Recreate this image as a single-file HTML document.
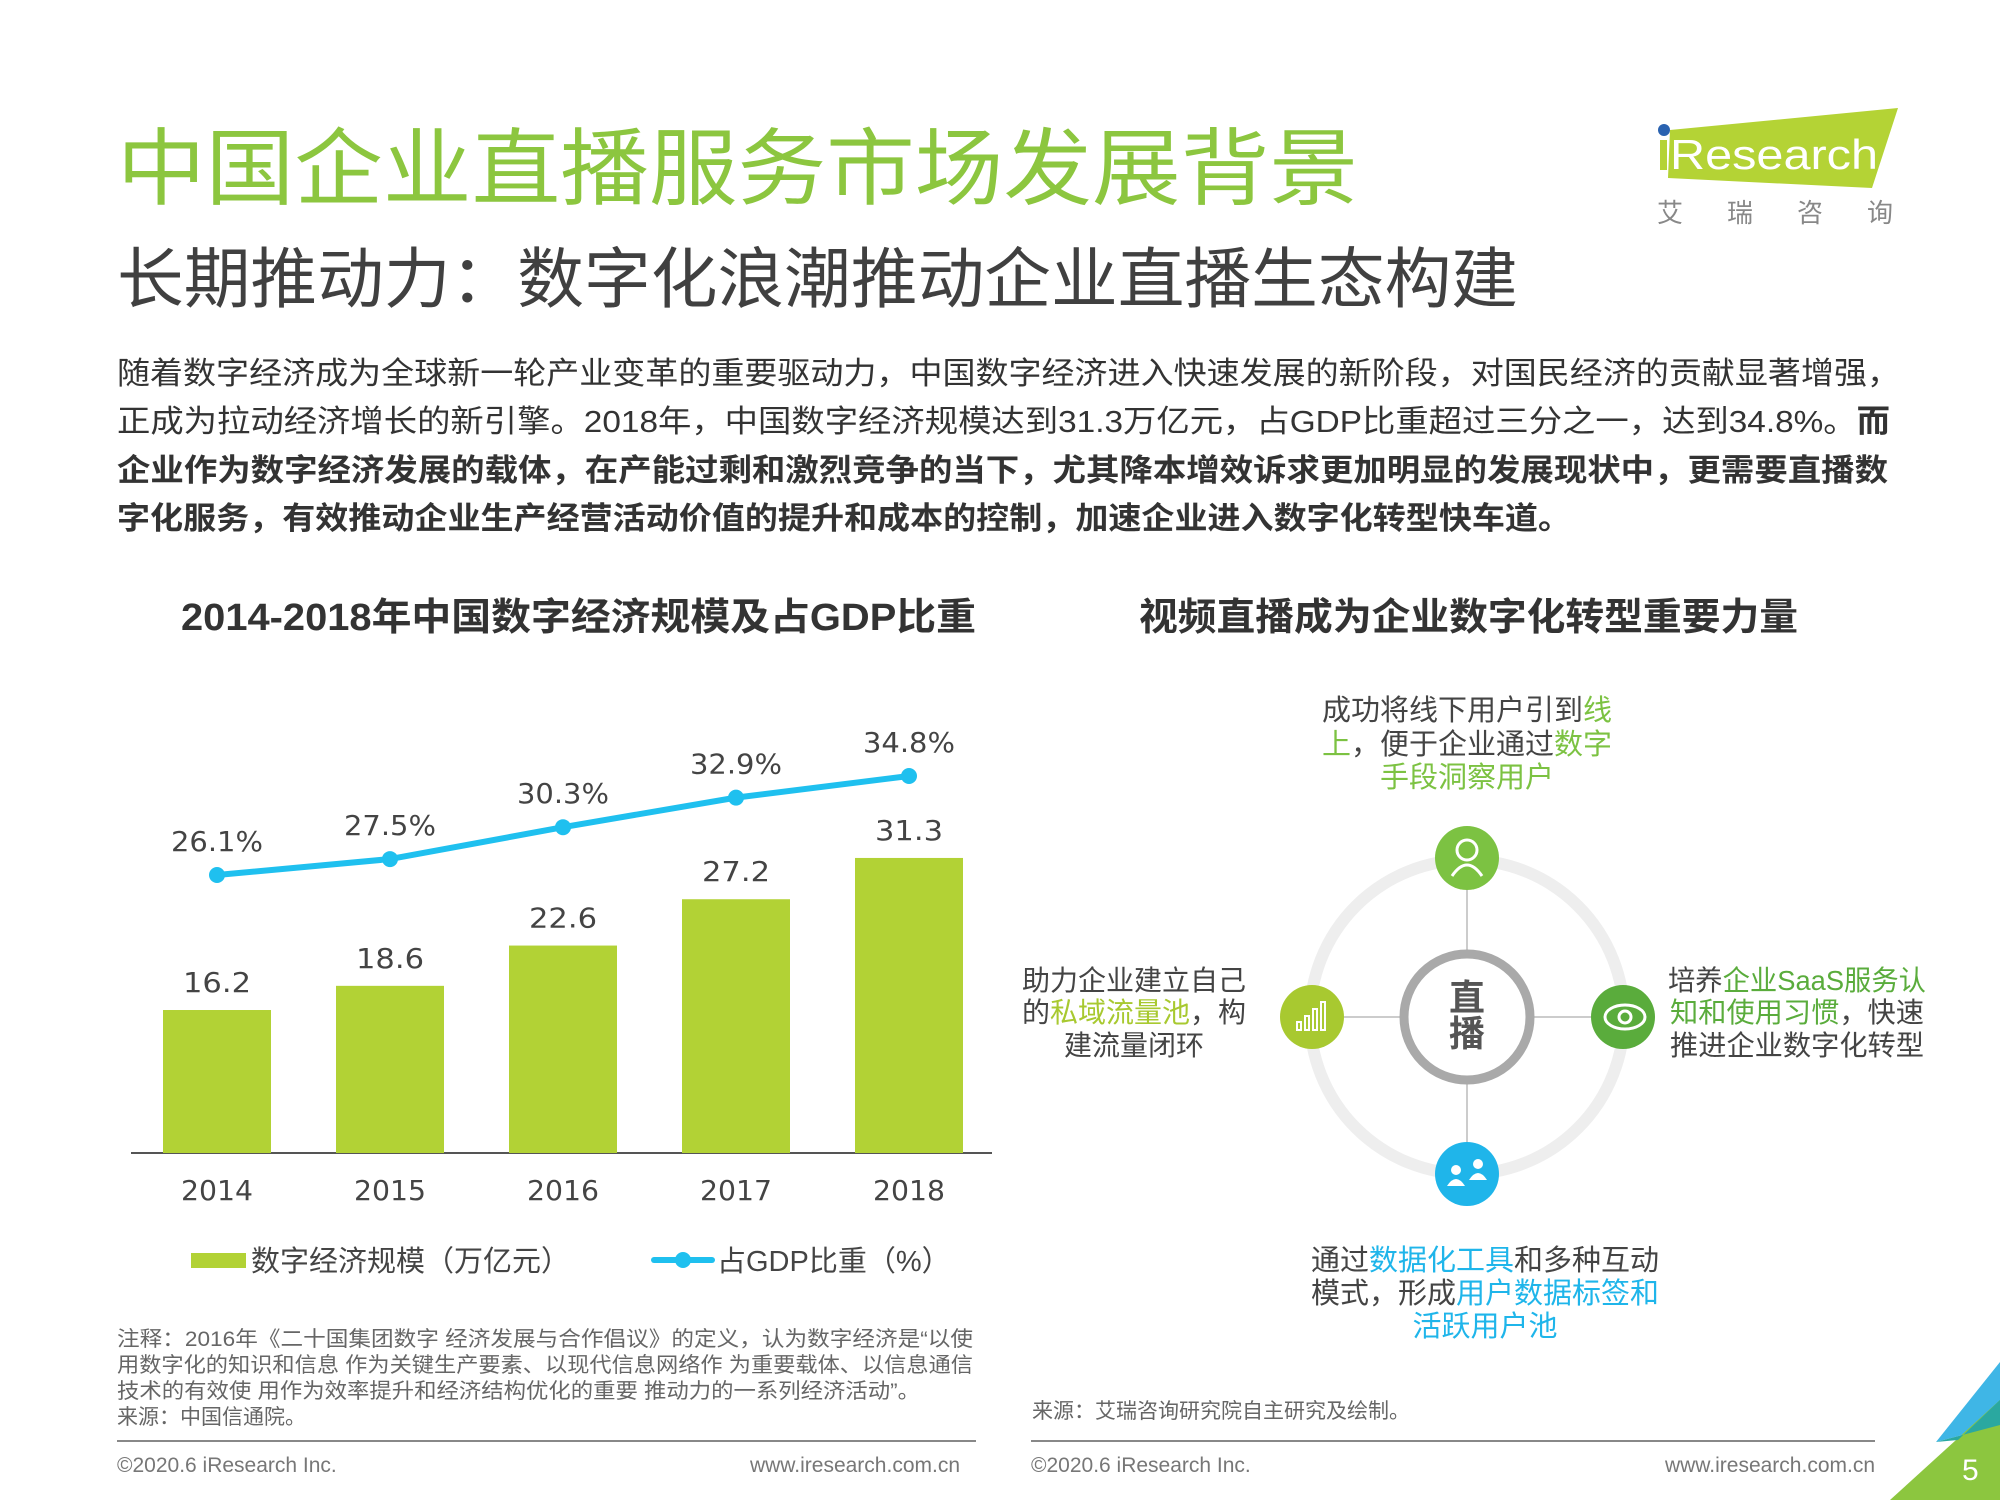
<!DOCTYPE html>
<html><head><meta charset="utf-8"><style>
html,body{margin:0;padding:0;background:#fff;}
svg{display:block;}
text{font-family:"Liberation Sans","Noto Sans CJK SC",sans-serif;}
.num{font-family:"DejaVu Sans","Liberation Sans",sans-serif;}
</style></head><body>
<svg id="page" width="2000" height="1500" viewBox="0 0 2000 1500">
<text x="117" y="198" font-size="84" fill="#8cc63f" textLength="1241" lengthAdjust="spacingAndGlyphs">中国企业直播服务市场发展背景</text>
<text x="117" y="302" font-size="66" fill="#404040" textLength="1401" lengthAdjust="spacingAndGlyphs">长期推动力：数字化浪潮推动企业直播生态构建</text>
<g>
<polygon points="1670,130 1898,108 1872,188 1668,178" fill="#b4d335"/>
<circle cx="1664" cy="130" r="6" fill="#2a62b0"/>
<rect x="1660" y="140" width="7" height="30" fill="#b4d335"/>
<text x="1670" y="169" font-size="42" fill="#fff" textLength="208" lengthAdjust="spacingAndGlyphs">Research</text>
<text x="1657" y="222" font-size="26" fill="#888" letter-spacing="44">艾瑞咨询</text>
</g>
<g font-size="31" fill="#333">
<text x="117" y="384" textLength="1783" lengthAdjust="spacingAndGlyphs">随着数字经济成为全球新一轮产业变革的重要驱动力，中国数字经济进入快速发展的新阶段，对国民经济的贡献显著增强，</text>
<text x="117" y="432" textLength="1773" lengthAdjust="spacingAndGlyphs">正成为拉动经济增长的新引擎。2018年，中国数字经济规模达到31.3万亿元，占GDP比重超过三分之一，达到34.8%。<tspan font-weight="bold">而</tspan></text>
<text x="117" y="481" font-weight="bold" textLength="1771" lengthAdjust="spacingAndGlyphs">企业作为数字经济发展的载体，在产能过剩和激烈竞争的当下，尤其降本增效诉求更加明显的发展现状中，更需要直播数</text>
<text x="117" y="529" font-weight="bold" textLength="1454" lengthAdjust="spacingAndGlyphs">字化服务，有效推动企业生产经营活动价值的提升和成本的控制，加速企业进入数字化转型快车道。</text>
</g>
<text x="181" y="630" font-size="38" font-weight="bold" fill="#333" textLength="795" lengthAdjust="spacingAndGlyphs">2014-2018年中国数字经济规模及占GDP比重</text>
<text x="1139" y="630" font-size="38" font-weight="bold" fill="#333" textLength="659" lengthAdjust="spacingAndGlyphs">视频直播成为企业数字化转型重要力量</text>
<g id="chart"></g>
<g>
<rect x="191" y="1253" width="55" height="15" fill="#b2d235"/>
<text x="251" y="1271" font-size="29" fill="#444">数字经济规模（万亿元）</text>
<line x1="654" y1="1260" x2="712" y2="1260" stroke="#1fc0ef" stroke-width="6" stroke-linecap="round"/>
<circle cx="683" cy="1260" r="8" fill="#1fc0ef"/>
<text x="717" y="1271" font-size="29" fill="#444">占GDP比重（%）</text>
</g>
<g font-size="21" fill="#666">
<text x="117" y="1346" textLength="856" lengthAdjust="spacingAndGlyphs">注释：2016年《二十国集团数字 经济发展与合作倡议》的定义，认为数字经济是“以使</text>
<text x="117" y="1372" textLength="856" lengthAdjust="spacingAndGlyphs">用数字化的知识和信息 作为关键生产要素、以现代信息网络作 为重要载体、以信息通信</text>
<text x="117" y="1398" textLength="803" lengthAdjust="spacingAndGlyphs">技术的有效使 用作为效率提升和经济结构优化的重要 推动力的一系列经济活动”。</text>
<text x="117" y="1424">来源：中国信通院。</text>
</g>
<line x1="117" y1="1441" x2="976" y2="1441" stroke="#888" stroke-width="2"/>
<line x1="1031" y1="1441" x2="1875" y2="1441" stroke="#888" stroke-width="2"/>
<text x="117" y="1472" font-size="21" fill="#777">©2020.6 iResearch Inc.</text>
<text x="960" y="1472" font-size="21" fill="#777" text-anchor="end">www.iresearch.com.cn</text>
<text x="1031" y="1472" font-size="21" fill="#777">©2020.6 iResearch Inc.</text>
<text x="1875" y="1472" font-size="21" fill="#777" text-anchor="end">www.iresearch.com.cn</text>
<text x="1032" y="1418" font-size="21" fill="#666">来源：艾瑞咨询研究院自主研究及绘制。</text>
<g>
<polygon points="2000,1362 2000,1425 1936,1442" fill="#3fb6e6"/>
<polygon points="2000,1400 2000,1500 1890,1500" fill="#8cc63f"/>
<polygon points="1936,1442 2000,1425 2000,1400 1958,1440" fill="#2aa8a0"/>
<text x="1962" y="1480" font-size="30" fill="#fff">5</text>
</g>
<g>
<circle cx="1467" cy="1017" r="157" fill="none" stroke="#eeeeee" stroke-width="12"/>
<g stroke="#cccccc" stroke-width="2">
<line x1="1467" y1="890" x2="1467" y2="950"/><line x1="1467" y1="1084" x2="1467" y2="1142"/>
<line x1="1344" y1="1017" x2="1400" y2="1017"/><line x1="1534" y1="1017" x2="1591" y2="1017"/>
</g>
<circle cx="1467" cy="1017" r="63" fill="#fff" stroke="#a9a9a9" stroke-width="9"/>
<text x="1467" y="1010" font-size="36" font-weight="bold" fill="#555" text-anchor="middle">直</text>
<text x="1467" y="1046" font-size="36" font-weight="bold" fill="#555" text-anchor="middle">播</text>
<g><circle cx="1467" cy="858" r="32" fill="#7cc242"/><circle cx="1467" cy="850" r="10" fill="none" stroke="#fff" stroke-width="3"/><path d="M1452 876 q15 -22 30 0" fill="none" stroke="#fff" stroke-width="3"/></g>
<g><circle cx="1312" cy="1017" r="32" fill="#a8c930"/><g fill="none" stroke="#fff" stroke-width="2"><rect x="1297" y="1022" width="4" height="8"/><rect x="1305" y="1016" width="4" height="14"/><rect x="1313" y="1009" width="4" height="21"/><rect x="1321" y="1002" width="4" height="28"/></g></g>
<g><circle cx="1623" cy="1017" r="32" fill="#5aac3c"/><ellipse cx="1625" cy="1017" rx="20" ry="12" fill="none" stroke="#fff" stroke-width="3"/><circle cx="1625" cy="1017" r="6" fill="none" stroke="#fff" stroke-width="3"/></g>
<g><circle cx="1467" cy="1174" r="32" fill="#1fb5ea"/><circle cx="1456" cy="1170" r="5" fill="#fff"/><path d="M1447 1186 q9 -14 18 0z" fill="#fff"/><circle cx="1478" cy="1164" r="5" fill="#fff"/><path d="M1469 1180 q9 -14 18 0z" fill="#fff"/></g>
<g font-size="29" fill="#444" text-anchor="middle">
<text x="1467" y="720">成功将线下用户引到<tspan fill="#7cc242">线</tspan></text>
<text x="1467" y="754"><tspan fill="#7cc242">上</tspan>，便于企业通过<tspan fill="#7cc242">数字</tspan></text>
<text x="1467" y="787" fill="#7cc242">手段洞察用户</text>
</g>
<g font-size="28" fill="#444" text-anchor="middle">
<text x="1134" y="990">助力企业建立自己</text>
<text x="1134" y="1022">的<tspan fill="#a8c930">私域流量池</tspan>，构</text>
<text x="1134" y="1055">建流量闭环</text>
</g>
<g font-size="28" fill="#444">
<text x="1668" y="990" textLength="258" lengthAdjust="spacingAndGlyphs">培养<tspan fill="#5aac3c">企业SaaS服务认</tspan></text>
<text x="1670" y="1022" textLength="254" lengthAdjust="spacingAndGlyphs"><tspan fill="#5aac3c">知和使用习惯</tspan>，快速</text>
<text x="1670" y="1055" textLength="254" lengthAdjust="spacingAndGlyphs">推进企业数字化转型</text>
</g>
<g font-size="29" fill="#444" text-anchor="middle">
<text x="1485" y="1270">通过<tspan fill="#1fb5ea">数据化工具</tspan>和多种互动</text>
<text x="1485" y="1303">模式，形成<tspan fill="#1fb5ea">用户数据标签和</tspan></text>
<text x="1485" y="1336" fill="#1fb5ea">活跃用户池</text>
</g>
</g>
</svg>
<script>
const years = ["2014","2015","2016","2017","2018"];
const scaleValues = [16.2, 18.6, 22.6, 27.2, 31.3];
const gdpShare = [26.1, 27.5, 30.3, 32.9, 34.8];
const NS = "http://www.w3.org/2000/svg";
const g = document.getElementById("chart");
const baseY = 1153;
function xPos(i){ return 217 + i * 173; }
function yBar(v){ return baseY - (v - 2) * 10.07; }
function yLine(v){ return 875 - (v - 26.1) * 11.38; }
function mk(tag, attrs){ const e = document.createElementNS(NS, tag); for (const k in attrs) e.setAttribute(k, attrs[k]); g.appendChild(e); return e; }
const axis = mk("line", {x1:131, y1:baseY, x2:992, y2:baseY, stroke:"#555", "stroke-width":2});


scaleValues.forEach((v, i) => {
  const r = mk("rect", {x:xPos(i)-54, y:yBar(v), width:108, height:baseY - yBar(v), fill:"#b2d235"});
  
  
  const t = mk("text", {x:xPos(i), y:yBar(v)-18, "text-anchor":"middle", "font-size":28, fill:"#444", class:"num", textLength:68, lengthAdjust:"spacingAndGlyphs"});
  t.textContent = v.toFixed(1);
  
  
  const yl = mk("text", {x:xPos(i), y:1200, "text-anchor":"middle", "font-size":28, fill:"#444", class:"num", textLength:72, lengthAdjust:"spacingAndGlyphs"});
  yl.textContent = years[i];
  
  
});
const pl = mk("polyline", {points: gdpShare.map((v,i)=>xPos(i)+","+yLine(v)).join(" "), fill:"none", stroke:"#1fc0ef", "stroke-width":6});


gdpShare.forEach((v, i) => {
  const c = mk("circle", {cx:xPos(i), cy:yLine(v), r:8, fill:"#1fc0ef"});
  
  
  const t = mk("text", {x:xPos(i), y:yLine(v)-24, "text-anchor":"middle", "font-size":28, fill:"#444", class:"num", textLength:92, lengthAdjust:"spacingAndGlyphs"});
  t.textContent = v.toFixed(1) + "%";
  
  
});
</script>
</body></html>
